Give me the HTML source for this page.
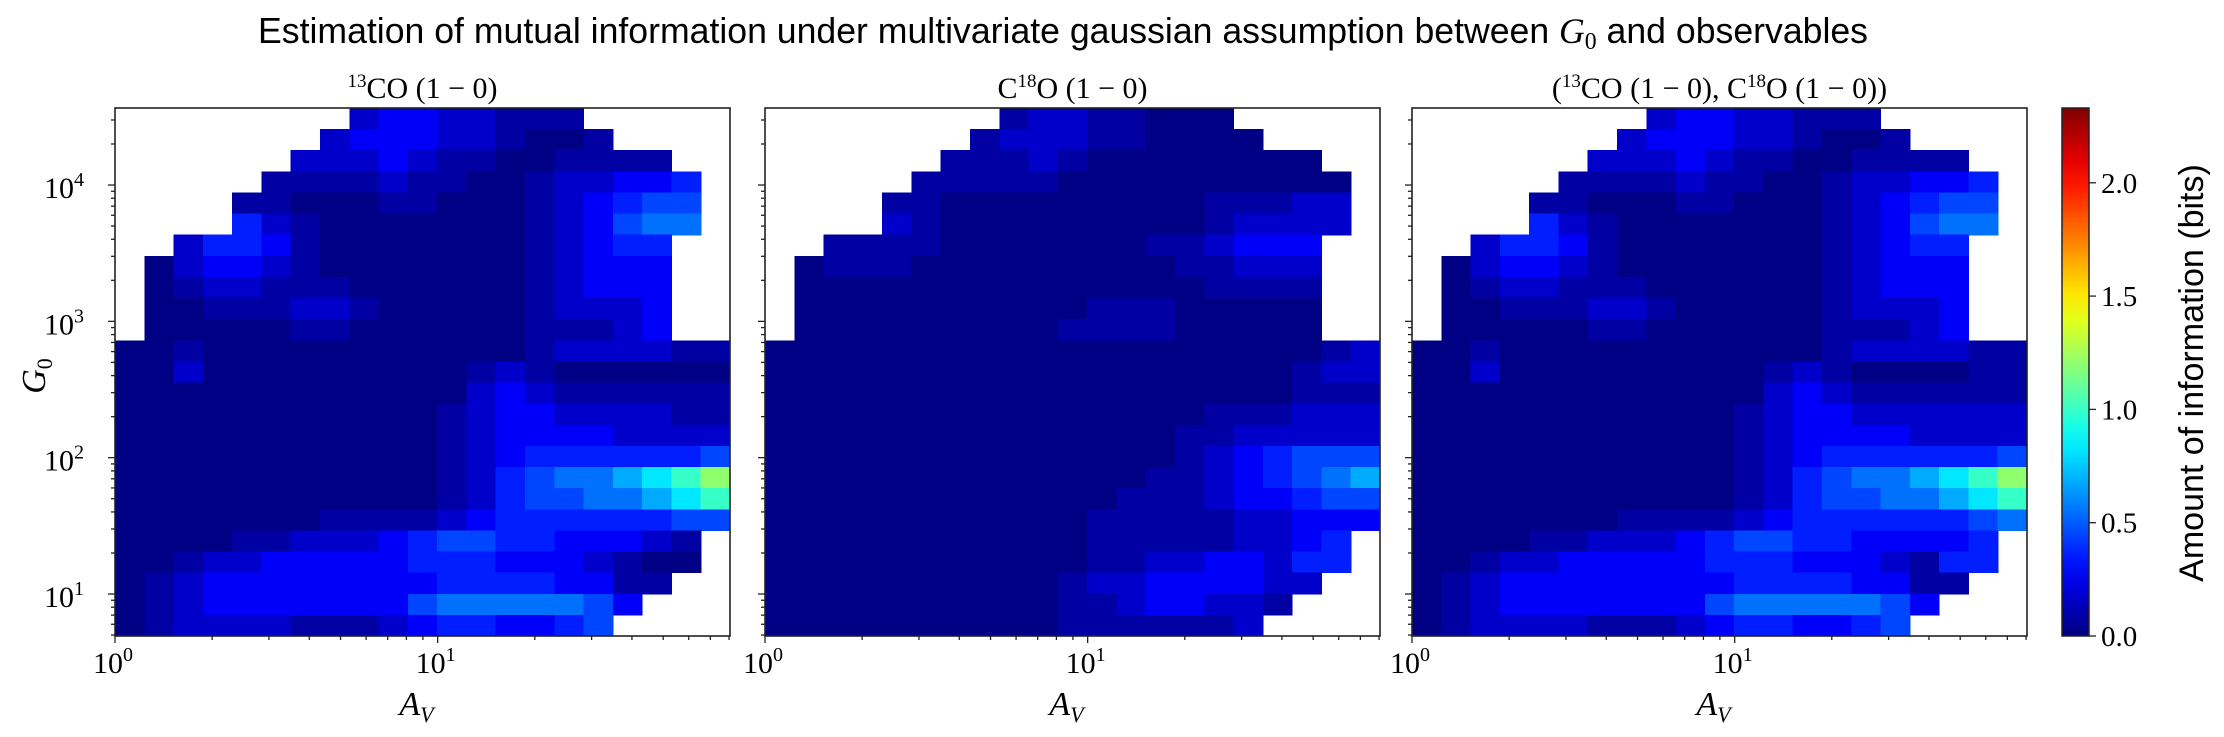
<!DOCTYPE html>
<html><head><meta charset="utf-8"><style>
html,body{margin:0;padding:0;background:#fff;}
svg{display:block;}
text{fill:#000;}
.serif{font-family:"Liberation Serif","DejaVu Serif",serif;}
.sans{font-family:"Liberation Sans","DejaVu Sans",sans-serif;}
</style></head><body>
<svg id="fig" xmlns="http://www.w3.org/2000/svg" width="2224" height="737" viewBox="0 0 2224 737">
<text class="sans" x="258" y="43" font-size="36" textLength="1610" lengthAdjust="spacingAndGlyphs">Estimation of mutual information under multivariate gaussian assumption between <tspan class="serif" font-style="italic">G</tspan><tspan class="serif" font-size="24" dy="6">0</tspan><tspan dy="-6"> and observables</tspan></text>
<g id="panels"></g>
<g id="cbar"></g>
</svg>
<script>
// ---- data (bits), level codes per cell; '.' = no data ----
const levelChars = ['0','1','2','3','4','5','6','7','8','9','a'];
const levelBits = [0.01,0.08,0.17,0.28,0.36,0.45,0.55,0.68,0.82,1.0,1.2];
const xDomainLog = [0, 1.906];
const yDomainLog = [0.692, 4.565];
const panelTitles = ["<tspan font-size='19' dy='-11'>13</tspan><tspan dy='11'>CO (1 − 0)</tspan>",
  "C<tspan font-size='19' dy='-11'>18</tspan><tspan dy='11'>O (1 − 0)</tspan>",
  "(<tspan font-size='19' dy='-11'>13</tspan><tspan dy='11'>CO (1 − 0), C</tspan><tspan font-size='19' dy='-11'>18</tspan><tspan dy='11'>O (1 − 0))</tspan>"];
const grid13CO = [
"........23322111.....",
".......2333221001....",
"......2223211001111..",
".....111121100122334.",
"....1100011000123455.",
"....4210000000123566.",
"..24431000000012344..",
".023321000000012333..",
".012211100000012333..",
".001112210000012223..",
".000001100000011123..",
"001000000000001222211",
"002000000000121000000",
"000000000000232111111",
"000000000001233222211",
"000000000001233332222",
"000000000001234444445",
"00000000000124566789a",
"000000000001245566789",
"000000011112344444455",
"00001122234554433321.",
"00122333334443332100.",
"0123333333344443311..",
"012333333356666653...",
"01222211123443345...."
];
const gridC18O = [
"........12211000.....",
".......1222110000....",
"......1112100000000..",
".....111110000000000.",
"....1100000000011122.",
"....2100000000012222.",
"..11110000000112333..",
".011100000000011222..",
".000000000000001111..",
".000000000011100000..",
".000000000111100000..",
"000000000000000000012",
"000000000000000000122",
"000000000000000000111",
"000000000000000111222",
"000000000000001122222",
"000000000000001234555",
"000000000000011234567",
"000000000000111233455",
"000000000001111122333",
"00000000000111112234.",
"00000000000112233244.",
"0000000000122333322..",
"000000000011233221...",
"00000000001111112...."
];
const gridJoint = [
"........23322111.....",
".......2333221001....",
"......2223211001111..",
".....111121100122334.",
"....1100011000123455.",
"....4210000000123566.",
"..24431000000012344..",
".023321000000012333..",
".012211100000012333..",
".001112210000012223..",
".000001100000011123..",
"001000000000001222211",
"002000000000121000011",
"000000000000232111111",
"000000000001233222222",
"000000000001233332222",
"000000000001234444445",
"00000000000124566789a",
"000000000001245566789",
"000000011112344444456",
"00001122234554433334.",
"00122333334443332144.",
"0123333333344443311..",
"012333333356666653...",
"01222211123443345...."
];
const xTickLabels = ["0","1"];
const yTickLabels = ["1","2","3","4"];
const cbarTicks = [0.0,0.5,1.0,1.5,2.0];
const cbarMax = 2.33;

// ---- layout ----
const NS = "http://www.w3.org/2000/svg";
const panelX = [115, 765, 1412];
const PW = 615, PT = 108, PB = 636;
function mk(tag, attrs, parent){ const e=document.createElementNS(NS,tag); for(const k in attrs) e.setAttribute(k,attrs[k]); if(parent) parent.appendChild(e); return e; }
function jet(t){ t=Math.max(0,Math.min(1,t)); const c=v=>Math.round(255*Math.max(0,Math.min(1,v)));
  return `rgb(${c(1.5-Math.abs(4*t-3))},${c(1.5-Math.abs(4*t-2))},${c(1.5-Math.abs(4*t-1))})`; }
function xScale(p, lg){ return panelX[p] + (lg-xDomainLog[0])/(xDomainLog[1]-xDomainLog[0])*PW; }
function yScale(lg){ return PB - (lg-yDomainLog[0])/(yDomainLog[1]-yDomainLog[0])*(PB-PT); }

const panelsG = document.getElementById('panels');
const grids = [grid13CO, gridC18O, gridJoint];
grids.forEach((grid, p) => {
  const g = mk('g', {}, panelsG);
  
  
  const nr = grid.length, nc = 21;
  const dx = (xDomainLog[1]-xDomainLog[0])/nc, dy = (yDomainLog[1]-yDomainLog[0])/nr;
  grid.forEach((row, r) => {
    for (let c = 0; c < nc; c++) {
      const ch = row[c]; const li = levelChars.indexOf(ch);
      if (li < 0) continue;
      const v = levelBits[li];
      const x0 = xScale(p, xDomainLog[0]+c*dx), x1 = xScale(p, xDomainLog[0]+(c+1)*dx);
      const yTop = yScale(yDomainLog[1]-r*dy), yBot = yScale(yDomainLog[1]-(r+1)*dy);
      const rect = mk('rect', {x:x0, y:yTop, width:x1-x0+0.6, height:yBot-yTop+0.6, fill:jet(v/cbarMax), 'shape-rendering':'crispEdges'}, g);
      
      
    }
  });
  const fr = mk('rect', {x:panelX[p], y:PT, width:PW, height:PB-PT, fill:'none', stroke:'#222', 'stroke-width':1.6}, g);
  
  
  for (let d = 0; d <= 1; d++) {
    for (let m = 1; m <= 9; m++) {
      const lg = d + Math.log10(m);
      if (lg > xDomainLog[1]) continue;
      const x = xScale(p, lg);
      mk('line', {x1:x, x2:x, y1:PB, y2:PB+(m===1?7:4), stroke:'#222', 'stroke-width':1.3}, g);
    }
    const t = mk('text', {x:xScale(p,d)-2, y:673, 'font-size':30, 'text-anchor':'middle', class:'serif'}, g);
    
    
    t.innerHTML = "10<tspan font-size='20' dy='-12'>" + xTickLabels[d] + "</tspan>";
  }
  const xl = mk('text', {x:panelX[p]+PW/2-6, y:715, 'font-size':34, 'text-anchor':'middle', class:'serif', 'font-style':'italic'}, g);
  
  
  xl.innerHTML = "A<tspan font-size='22' dy='7'>V</tspan>";
  for (let d = 0; d <= 4; d++) {
    for (let m = 1; m <= 9; m++) {
      const lg = d + Math.log10(m);
      if (lg < yDomainLog[0] || lg > yDomainLog[1]) continue;
      const y = yScale(lg);
      mk('line', {x1:panelX[p], x2:panelX[p]-(m===1?7:4), y1:y, y2:y, stroke:'#222', 'stroke-width':1.3}, g);
    }
  }
  if (p === 0) {
    yTickLabels.forEach((lab, i) => {
      const t = mk('text', {x:84, y:yScale(+lab)+13, 'font-size':30, 'text-anchor':'end', class:'serif'}, g);
      
      
      t.innerHTML = "10<tspan font-size='20' dy='-12'>" + lab + "</tspan>";
    });
    const yl = mk('text', {x:0, y:0, 'font-size':34, 'text-anchor':'middle', class:'serif', 'font-style':'italic', transform:'translate(45,376) rotate(-90)'}, g);
    
    
    yl.innerHTML = "G<tspan font-size='22' dy='7' font-style='normal'>0</tspan>";
  }
  const st = mk('text', {x:panelX[p]+PW/2, y:98, 'font-size':30, 'text-anchor':'middle', class:'serif'}, g);
  
  
  st.innerHTML = panelTitles[p];
});

const cb = document.getElementById('cbar');
const CX = 2062, CW = 27;
const defs = mk('defs', {}, cb);
const lg = mk('linearGradient', {id:'jetg', x1:0, y1:1, x2:0, y2:0}, defs);
for (let i = 0; i <= 20; i++) mk('stop', {offset:(i/20), 'stop-color':jet(i/20)}, lg);
const cr = mk('rect', {x:CX, y:PT, width:CW, height:PB-PT, fill:'url(#jetg)', stroke:'#222', 'stroke-width':1.5}, cb);


cbarTicks.forEach(v => {
  const y = PB - v/cbarMax*(PB-PT);
  mk('line', {x1:CX+CW, x2:CX+CW+7, y1:y, y2:y, stroke:'#222', 'stroke-width':1.3}, cb);
  const t = mk('text', {x:CX+CW+12, y:y+10, 'font-size':29, class:'serif'}, cb);
  
  
  t.textContent = v.toFixed(1);
});
const cl = mk('text', {x:0, y:0, 'font-size':34, 'text-anchor':'middle', class:'sans', transform:'translate(2203,373) rotate(-90)'}, cb);


cl.textContent = 'Amount of information (bits)';
</script>
</body></html>
